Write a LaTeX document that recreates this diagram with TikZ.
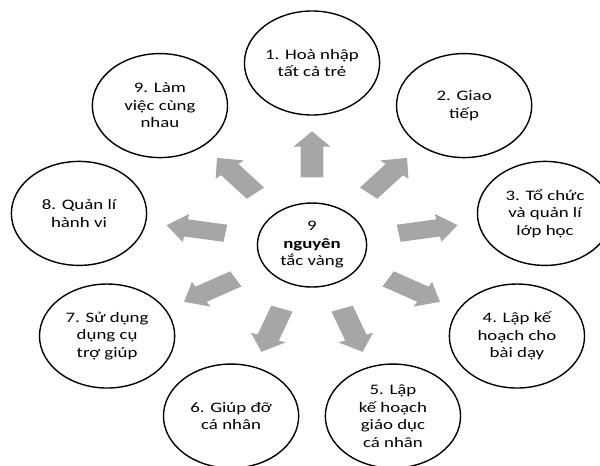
\documentclass[tikz,border=0pt]{standalone}
\usepackage{fontspec}
\setmainfont{Carlito}
\usetikzlibrary{shapes.arrows}
\definecolor{spokegrey}{HTML}{A6A6A6}

\begin{document}
\begin{tikzpicture}[x=1pt, y=1pt, xscale=1.3,
    every node/.style={transform shape},
    principle/.style={circle, draw, line width=1.4pt, fill=white, minimum size=104pt,
      inner sep=0pt, align=center, font=\fontsize{14.5}{17.5}\selectfont},
    hub/.style={principle, minimum size=84pt},
    spoke/.style={single arrow, fill=spokegrey, inner xsep=0pt, inner ysep=8.5pt,
      minimum height=46pt, single arrow head extend=5.5pt, single arrow tip angle=86}]
      \useasboundingbox (-240,-220) rectangle (221.5,245);
      \path
        (0,0) node[hub] (0) {9\\\textbf{nguyên}\\tắc vàng}
        (90:182) node[principle] (1) {1. Hoà nhập\\tất cả trẻ}
        (50:182) node[principle] (2) {2. Giao\\tiếp}
        (10:182) node[principle] (3) {3. Tổ chức\\và quản lí\\lớp học}
        (-30:182) node[principle] (4) {4. Lập kế\\hoạch cho\\bài dạy}
        (-70:182) node[principle] (5) {5. Lập\\kế hoạch\\giáo dục\\cá nhân}
        (-110:182) node[principle] (6) {6. Giúp đỡ\\cá nhân}
        (-150:182) node[principle] (7) {7. Sử dụng\\dụng cụ\\trợ giúp}
        (170:182) node[principle] (8) {8. Quản lí\\hành vi}
        (130:182) node[principle] (9) {9. Làm\\việc cùng\\nhau};
      \begin{scope}[every node/.append style={spoke}]
        \path (0) to node[rotate=90] {} (1);
        \path (0) to node[rotate=50] {} (2);
        \path (0) to node[rotate=10] {} (3);
        \path (0) to node[rotate=-30] {} (4);
        \path (0) to node[rotate=-70] {} (5);
        \path (0) to node[rotate=-110] {} (6);
        \path (0) to node[rotate=-150] {} (7);
        \path (0) to node[rotate=170] {} (8);
        \path (0) to node[rotate=130] {} (9);
      \end{scope}

    \end{tikzpicture}
\end{document}
